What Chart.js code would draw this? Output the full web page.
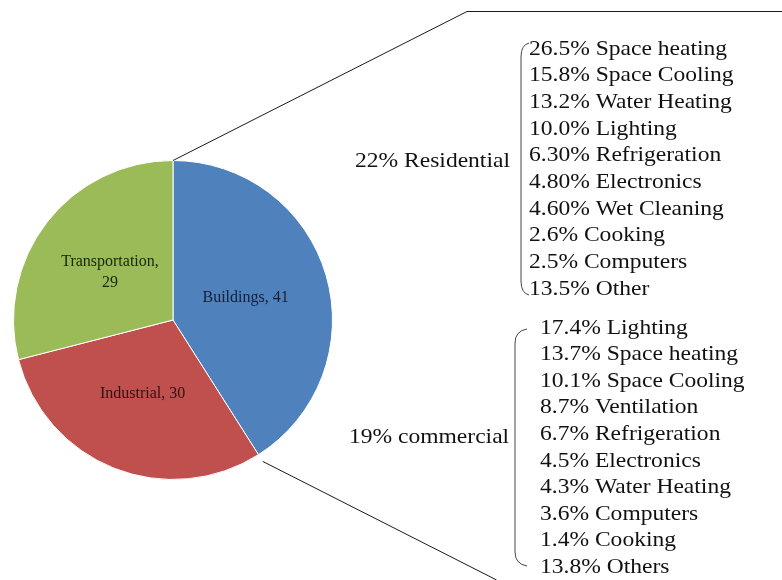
<!DOCTYPE html>
<html>
<head>
<meta charset="utf-8">
<title>Energy use by sector</title>
<script src="https://cdn.jsdelivr.net/npm/chart.js@4"></script>
<style>
  html, body { margin: 0; padding: 0; background: #fff; }
  #wrap { width: 782px; height: 580px; }
</style>
</head>
<body>
<div id="wrap"><canvas id="pie" width="782" height="580"></canvas></div>
<script>
// sector shares
var sectors = ['Buildings', 'Industrial', 'Transportation'];
var shares = [41, 30, 29];
var sliceColors = ['#4f81bd', '#c0504d', '#9bbb59'];
var labelColors = ['#142039', '#331010', '#1b250c'];

// buildings breakdown
var residentialTitle = '22% Residential';
var residentialPct = ['26.5%', '15.8%', '13.2%', '10.0%', '6.30%', '4.80%', '4.60%', '2.6%', '2.5%', '13.5%'];
var residentialUses = ['Space heating', 'Space Cooling', 'Water Heating', 'Lighting', 'Refrigeration', 'Electronics', 'Wet Cleaning', 'Cooking', 'Computers', 'Other'];

var commercialTitle = '19% commercial';
var commercialPct = ['17.4%', '13.7%', '10.1%', '8.7%', '6.7%', '4.5%', '4.3%', '3.6%', '1.4%', '13.8%'];
var commercialUses = ['Lighting', 'Space heating', 'Space Cooling', 'Ventilation', 'Refrigeration', 'Electronics', 'Water Heating', 'Computers', 'Cooking', 'Others'];

var serif = '"Liberation Serif", "DejaVu Serif", serif';
var stretch = 1.07; // the list text is set a little wide

// slice labels, "Name, value", placed at each arc's centre point
var sliceLabels = {
    id: 'sliceLabels',
    afterDatasetsDraw: function (chart) {
        var ctx = chart.ctx;
        var meta = chart.getDatasetMeta(0);
        ctx.save();
        ctx.font = '16px ' + serif;
        ctx.textAlign = 'center';
        ctx.textBaseline = 'middle';
        meta.data.forEach(function (arc, i) {
            var p = arc.tooltipPosition();
            ctx.fillStyle = labelColors[i];
            if (sectors[i] == 'Transportation') {
                ctx.fillText(sectors[i] + ',', p.x, p.y - 9);
                ctx.fillText(String(shares[i]), p.x, p.y + 12);
            } else if (sectors[i] == 'Industrial') {
                ctx.fillText(sectors[i] + ', ' + shares[i], p.x - 1, p.y);
            } else {
                ctx.fillText(sectors[i] + ', ' + shares[i], p.x - 4, p.y);
            }
        });
        ctx.restore();
    }
};

function drawBracket(ctx, x, top, bottom, tail) {
    ctx.beginPath();
    ctx.moveTo(x + tail, top);
    ctx.quadraticCurveTo(x, top + 2, x, top + 14);
    ctx.lineTo(x, bottom - 14);
    ctx.quadraticCurveTo(x, bottom - 2, x + tail, bottom);
    ctx.stroke();
}

function drawText(ctx, text, x, y) {
    ctx.save();
    ctx.translate(x, y);
    ctx.scale(stretch, 1);
    ctx.fillText(text, 0, 0);
    ctx.restore();
}

function drawList(ctx, x, y0, step, pct, uses) {
    pct.forEach(function (p, i) {
        drawText(ctx, p + ' ' + uses[i], x, y0 + i * step);
    });
}

// zoom-out lines from the buildings slice and the two breakdown lists
var breakdown = {
    id: 'breakdown',
    afterDraw: function (chart) {
        var ctx = chart.ctx;
        var arc = chart.getDatasetMeta(0).data[0];
        var r = arc.outerRadius;
        ctx.save();
        ctx.strokeStyle = '#1a1a1a';
        ctx.lineWidth = 1;

        // top edge of the buildings slice
        var a0 = arc.startAngle;
        ctx.beginPath();
        ctx.moveTo(arc.x + r * Math.cos(a0), arc.y + r * Math.sin(a0));
        ctx.lineTo(467, 11.5);
        ctx.lineTo(782, 11.5);
        ctx.stroke();

        // bottom edge of the buildings slice
        var a1 = arc.endAngle;
        var sx = arc.x + (r + 8) * Math.cos(a1);
        var sy = arc.y + (r + 8) * Math.sin(a1);
        ctx.beginPath();
        ctx.moveTo(sx, sy);
        ctx.lineTo(sx + (580 - sy) / 0.507, 580);
        ctx.stroke();

        ctx.strokeStyle = '#444';
        drawBracket(ctx, 521, 43, 295, 8);
        drawBracket(ctx, 515, 329, 566, 12);

        ctx.fillStyle = '#111';
        ctx.font = '22px ' + serif;
        ctx.textBaseline = 'middle';
        ctx.textAlign = 'left';
        drawText(ctx, residentialTitle, 355, 161);
        drawText(ctx, commercialTitle, 349, 437);
        drawList(ctx, 529, 49, 26.67, residentialPct, residentialUses);
        drawList(ctx, 540, 328, 26.55, commercialPct, commercialUses);
        ctx.restore();
    }
};

var ctx = document.getElementById('pie');
var pieChart = new Chart(ctx, {
    type: 'pie',
    data: {
        labels: sectors,
        datasets: [{
            data: shares,
            backgroundColor: sliceColors,
            borderColor: '#ffffff',
            borderWidth: 1
        }]
    },
    options: {
        responsive: false,
        animation: false,
        layout: {
            padding: { left: 13, top: 160, right: 449, bottom: 100 }
        },
        plugins: {
            legend: { display: false },
            tooltip: { enabled: false }
        }
    },
    plugins: [sliceLabels, breakdown]
});
</script>
</body>
</html>
